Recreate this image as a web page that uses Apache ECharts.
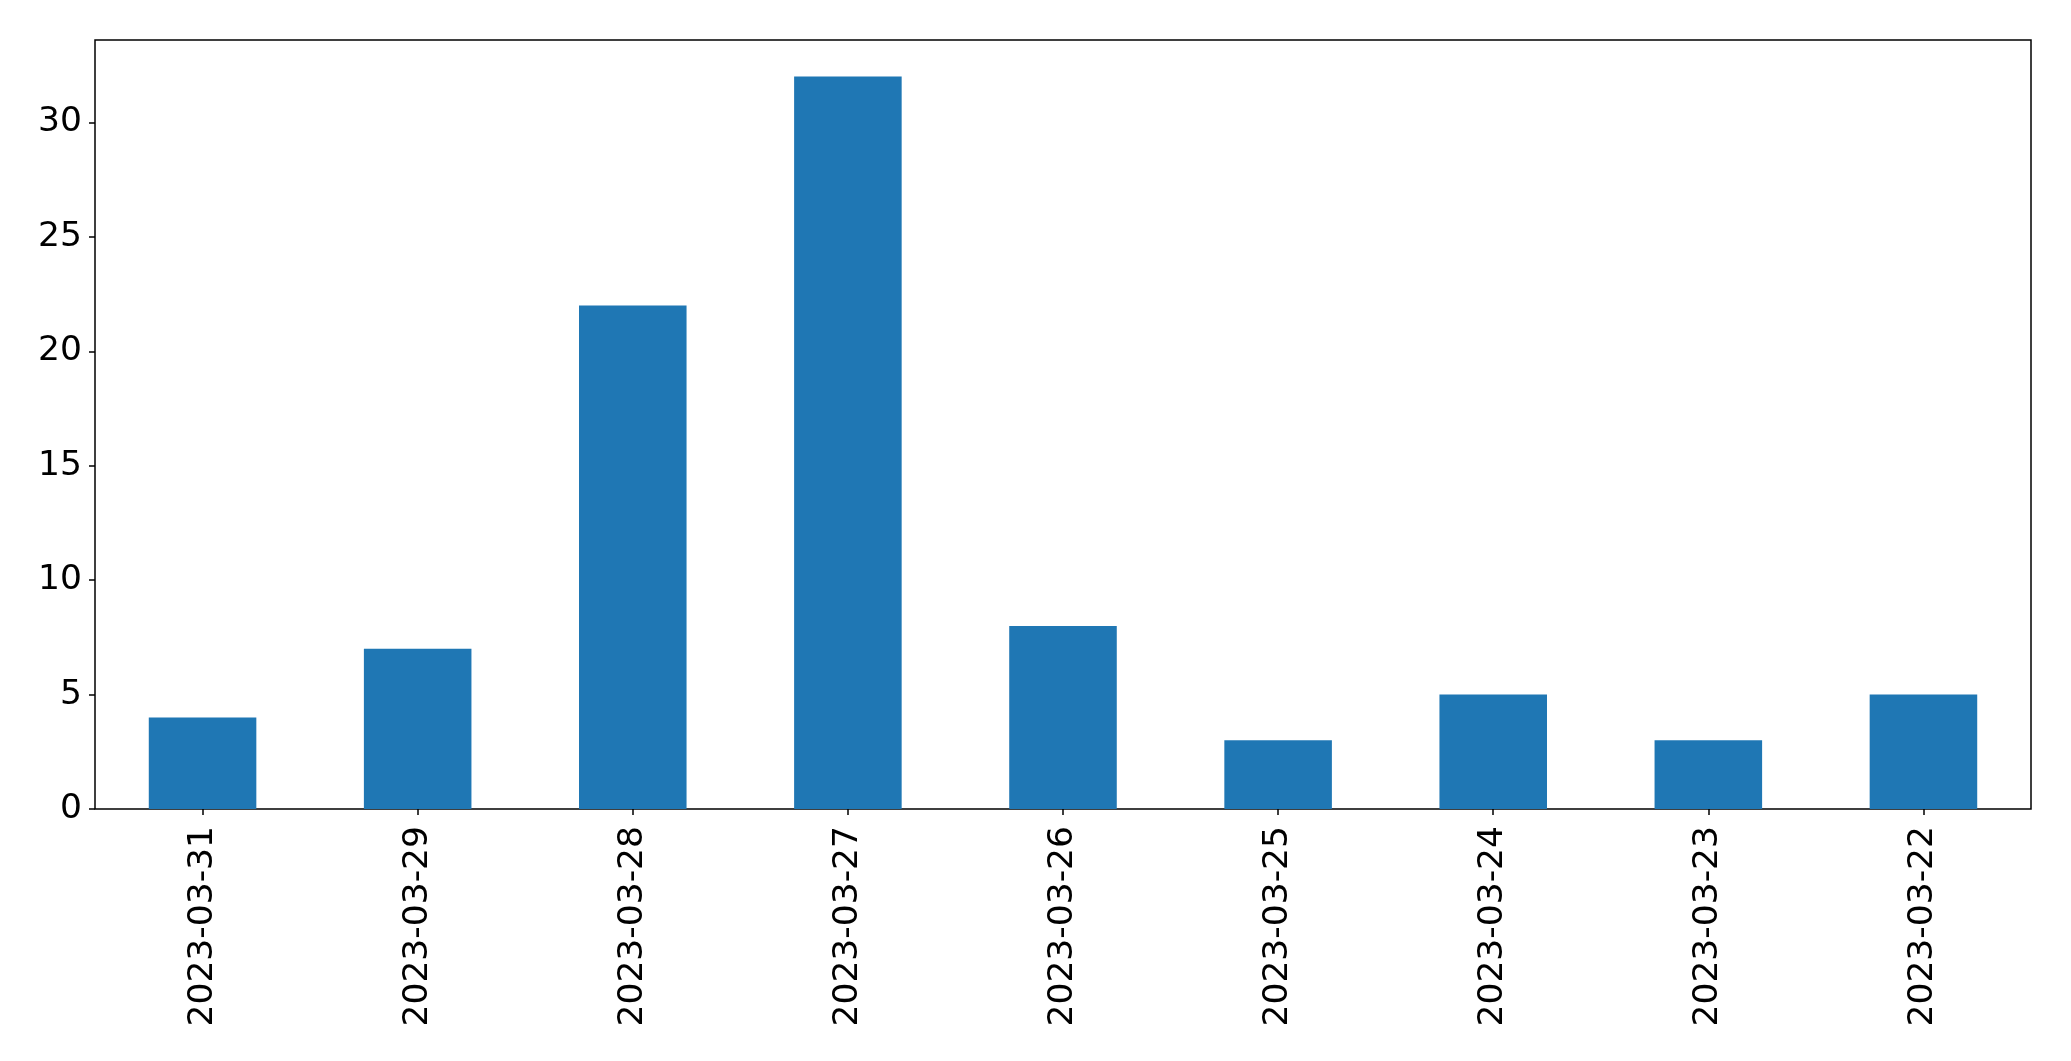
<!DOCTYPE html>
<html>
<head>
<meta charset="utf-8">
<script src="https://cdn.jsdelivr.net/npm/echarts@6/dist/echarts.min.js"></script>
<style>html,body{margin:0;padding:0;background:#fff;}#c{width:2071px;height:1061px;}</style>
</head>
<body>
<div id="c"></div>
<script>
const categories = ['2023-03-31','2023-03-29','2023-03-28','2023-03-27','2023-03-26','2023-03-25','2023-03-24','2023-03-23','2023-03-22'];
const values = [4, 7, 22, 32, 8, 3, 5, 3, 5];
const yTicks = [0, 5, 10, 15, 20, 25, 30];
const yMax = 33.6;

const chart = echarts.init(document.getElementById('c'), null, {renderer: 'canvas'});
const font = {fontFamily: 'DejaVu Sans', fontSize: 34.5, color: '#000'};
chart.setOption({
  animation: false,
  backgroundColor: '#fff',
  grid: {left: 95, right: 40, top: 40, bottom: 252, show: true, borderColor: '#000', borderWidth: 1.5, backgroundColor: 'transparent'},
  xAxis: {
    type: 'category',
    data: categories,
    boundaryGap: true,
    axisLine: {show: false},
    axisTick: {show: true, alignWithLabel: true, length: 6, lineStyle: {color: '#000', width: 1.5}},
    axisLabel: Object.assign({rotate: 90, margin: 17, interval: 0}, font),
    splitLine: {show: false}
  },
  yAxis: {
    type: 'value',
    min: 0,
    max: yMax,
    interval: 5,
    axisLine: {show: false},
    axisTick: {show: true, length: 6, lineStyle: {color: '#000', width: 1.5}, customValues: yTicks},
    axisLabel: Object.assign({margin: 13, customValues: yTicks}, font),
    splitLine: {show: false}
  },
  series: [{
    type: 'bar',
    data: values,
    barWidth: '50%',
    itemStyle: {color: '#1f77b4'}
  }]
});
</script>
</body>
</html>
